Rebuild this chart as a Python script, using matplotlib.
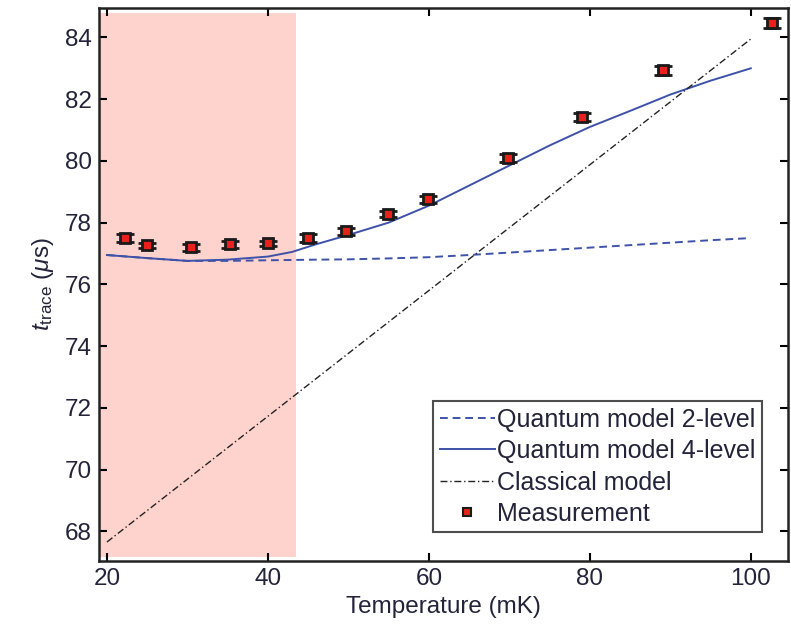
import matplotlib
matplotlib.use("Agg")
import matplotlib.pyplot as plt
from matplotlib.lines import Line2D

plt.rcParams['font.family'] = ['Liberation Sans', 'DejaVu Sans']
plt.rcParams['mathtext.fontset'] = 'custom'
plt.rcParams['mathtext.rm'] = 'Liberation Sans'
plt.rcParams['mathtext.it'] = 'Liberation Sans:italic'

# measurements
temp_meas = [22.2, 25.0, 30.4, 35.3, 40.0, 45.0, 49.7, 54.9, 59.9, 69.8, 79.0, 89.1, 102.6]
t_meas = [77.50, 77.27, 77.20, 77.30, 77.33, 77.50, 77.72, 78.27, 78.75, 80.09, 81.42, 82.94, 84.46]
t_err = [0.12, 0.08, 0.12, 0.12, 0.08, 0.12, 0.12, 0.10, 0.10, 0.12, 0.14, 0.15, 0.16]

# models
temp_model = [20, 25, 30, 35, 40, 43, 46, 50, 55, 60, 65, 70, 75, 80, 85, 90, 95, 100]
t_2level = [76.95, 76.85, 76.76, 76.76, 76.78, 76.79, 76.80, 76.81, 76.84, 76.88, 76.95, 77.03, 77.11, 77.19, 77.27, 77.35, 77.43, 77.50]
t_4level = [76.95, 76.85, 76.76, 76.80, 76.90, 77.05, 77.30, 77.60, 78.00, 78.55, 79.20, 79.85, 80.50, 81.10, 81.62, 82.15, 82.60, 83.00]
temp_classical = [20, 100]
t_classical = [67.65, 83.95]

blue = '#3d52a8'
txt = '#23233a'
fs = 17.5

fig = plt.figure(figsize=(7.91, 6.27), dpi=100)
ax = fig.add_axes([0.125, 0.105, 0.871, 0.883])

ax.axvspan(19.0, 43.5, ymin=0.008, ymax=0.991, color='#ffd3cd', lw=0, zorder=0)

ax.plot(temp_model, t_2level, '--', color=blue, lw=1.4, dashes=(4, 2.5))
ax.plot(temp_model, t_4level, '-', color=blue, lw=1.4)
ax.plot(temp_classical, t_classical, color='#222222', lw=1.0, dashes=(5, 2, 1, 2))
ax.errorbar(temp_meas, t_meas, yerr=t_err, fmt='s', ms=7.5, mfc='#e8211b', mec='#1a1a1a',
            mew=2, ecolor='#1a1a1a', elinewidth=2, capsize=6.5, capthick=2.5, zorder=5)

ax.set_xlim(19.0, 104.6)
ax.set_ylim(67.03, 84.97)
ax.set_xticks([20, 40, 60, 80, 100])
ax.set_yticks([68, 70, 72, 74, 76, 78, 80, 82, 84])
ax.tick_params(direction='in', length=6, width=1.5, labelsize=fs, labelcolor=txt,
               top=True, right=True, pad=5)
for s in ax.spines.values():
    s.set_linewidth(1.8)
    s.set_color('#222222')

ax.set_xlabel('Temperature (mK)', fontsize=fs, color=txt, labelpad=4)
ax.set_ylabel(r'$t_{\rm trace}$ ($\mu$s)', fontsize=fs, color=txt, labelpad=6)

handles = [
    Line2D([], [], color=blue, lw=1.4, ls='--', dashes=(4, 2.5)),
    Line2D([], [], color=blue, lw=1.4),
    Line2D([], [], color='#222222', lw=1.0, dashes=(5, 2, 1, 2)),
    Line2D([], [], ls='none', marker='s', ms=6, mfc='#e8211b', mec='#1a1a1a', mew=1.5),
]
labels = ['Quantum model 2-level', 'Quantum model 4-level', 'Classical model', 'Measurement']
leg = ax.legend(handles, labels, loc='lower right', bbox_to_anchor=(0.962, 0.052),
                fontsize=18, frameon=True, fancybox=False, edgecolor='#222222',
                handlelength=2.2, handletextpad=0.1, borderpad=0.25, labelspacing=0.3,
                borderaxespad=0)
leg.get_frame().set_linewidth(1.5)
for t in leg.get_texts():
    t.set_color(txt)

fig.savefig('out.png', dpi=100)
